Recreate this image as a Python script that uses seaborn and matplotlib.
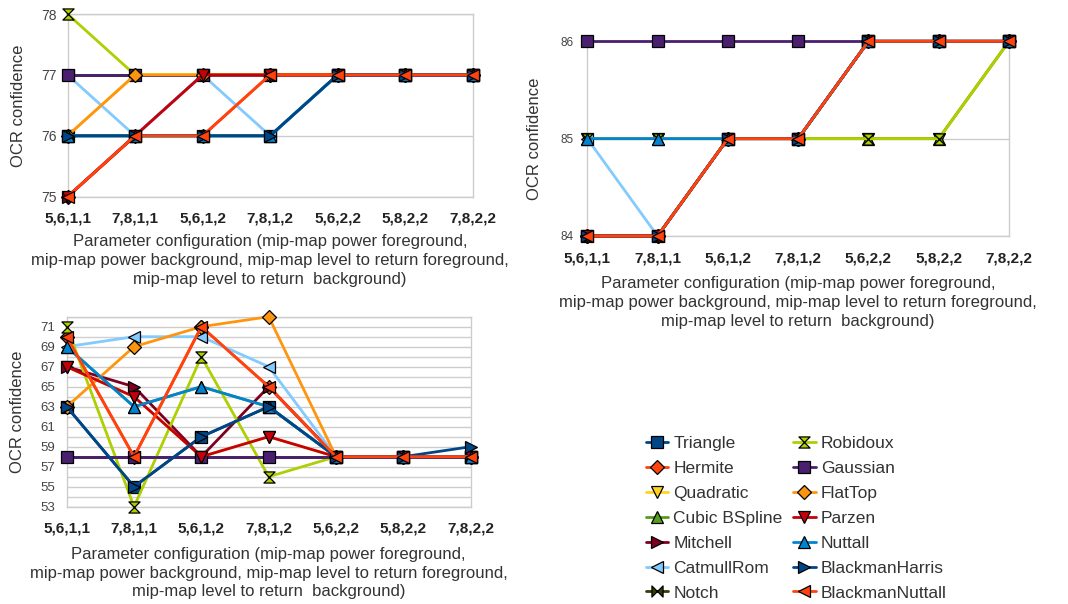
import numpy as np
import matplotlib
matplotlib.use("Agg")
import matplotlib.pyplot as plt
from matplotlib.path import Path
from matplotlib.lines import Line2D
import seaborn as sns

sns.set_theme(style="white")
plt.rcParams['font.family'] = ['Liberation Sans', 'DejaVu Sans']

configs = ["5,6,1,1", "7,8,1,1", "5,6,1,2", "7,8,1,2", "5,6,2,2", "5,8,2,2", "7,8,2,2"]
series = ["Triangle", "Hermite", "Quadratic", "Cubic BSpline", "Mitchell", "CatmullRom", "Notch",
          "Robidoux", "Gaussian", "FlatTop", "Parzen", "Nuttall", "BlackmanHarris", "BlackmanNuttall"]

# Chart A (top-left)
top_left = {
    "Triangle":        [76, 76, 76, 76, 77, 77, 77],
    "Hermite":         [75, 76, 76, 77, 77, 77, 77],
    "Quadratic":       [76, 77, 77, 77, 77, 77, 77],
    "Cubic BSpline":   [76, 76, 76, 76, 77, 77, 77],
    "Mitchell":        [75, 76, 77, 77, 77, 77, 77],
    "CatmullRom":      [77, 76, 77, 76, 77, 77, 77],
    "Notch":           [77, 77, 77, 77, 77, 77, 77],
    "Robidoux":        [78, 77, 77, 77, 77, 77, 77],
    "Gaussian":        [77, 77, 77, 77, 77, 77, 77],
    "FlatTop":         [76, 77, 77, 77, 77, 77, 77],
    "Parzen":          [75, 76, 77, 77, 77, 77, 77],
    "Nuttall":         [76, 76, 76, 76, 77, 77, 77],
    "BlackmanHarris":  [76, 76, 76, 76, 77, 77, 77],
    "BlackmanNuttall": [75, 76, 76, 77, 77, 77, 77],
}
# Chart B (top-right)
top_right = {
    "Triangle":        [84, 84, 85, 85, 86, 86, 86],
    "Hermite":         [84, 84, 85, 85, 86, 86, 86],
    "Quadratic":       [85, 85, 85, 85, 85, 85, 86],
    "Cubic BSpline":   [85, 85, 85, 85, 85, 85, 86],
    "Mitchell":        [84, 84, 85, 85, 86, 86, 86],
    "CatmullRom":      [85, 84, 85, 85, 86, 86, 86],
    "Notch":           [84, 84, 85, 85, 86, 86, 86],
    "Robidoux":        [85, 85, 85, 85, 85, 85, 86],
    "Gaussian":        [86, 86, 86, 86, 86, 86, 86],
    "FlatTop":         [84, 84, 85, 85, 86, 86, 86],
    "Parzen":          [84, 84, 85, 85, 86, 86, 86],
    "Nuttall":         [85, 85, 85, 85, 86, 86, 86],
    "BlackmanHarris":  [84, 84, 85, 85, 86, 86, 86],
    "BlackmanNuttall": [84, 84, 85, 85, 86, 86, 86],
}
# Chart C (bottom-left)
bottom_left = {
    "Triangle":        [63, 55, 60, 63, 58, 58, 58],
    "Hermite":         [70, 58, 71, 65, 58, 58, 58],
    "Quadratic":       [67, 64, 58, 60, 58, 58, 58],
    "Cubic BSpline":   [69, 63, 65, 63, 58, 58, 58],
    "Mitchell":        [67, 65, 58, 65, 58, 58, 58],
    "CatmullRom":      [69, 70, 70, 67, 58, 58, 58],
    "Notch":           [58, 58, 58, 58, 58, 58, 58],
    "Robidoux":        [71, 53, 68, 56, 58, 58, 58],
    "Gaussian":        [58, 58, 58, 58, 58, 58, 58],
    "FlatTop":         [63, 69, 71, 72, 58, 58, 58],
    "Parzen":          [67, 64, 58, 60, 58, 58, 58],
    "Nuttall":         [69, 63, 65, 63, 58, 58, 58],
    "BlackmanHarris":  [63, 55, 60, 63, 58, 58, 59],
    "BlackmanNuttall": [70, 58, 71, 65, 58, 58, 58],
}

colors = ["#004586", "#ff420e", "#ffd320", "#579d1c", "#7e0021", "#83caff", "#314004",
          "#aecf00", "#4b1f6f", "#ff950e", "#c5000b", "#0084d1", "#004586", "#ff420e"]

hourglass = Path([(-1, 1), (1, 1), (-1, -1), (1, -1), (-1, 1)],
                 [Path.MOVETO, Path.LINETO, Path.LINETO, Path.LINETO, Path.CLOSEPOLY])
bowtie = Path([(-1, -1), (-1, 1), (1, -1), (1, 1), (-1, -1)],
              [Path.MOVETO, Path.LINETO, Path.LINETO, Path.LINETO, Path.CLOSEPOLY])
markers = ["s", "D", "v", "^", ">", "<", bowtie, hourglass, "s", "D", "v", "^", ">", "<"]
msizes = [8, 7, 8, 8, 8, 8, 8, 8, 8, 7, 8, 8, 8, 8]

W, H = 1068, 604
fig = plt.figure(figsize=(W / 100, H / 100), dpi=100)
fig.patch.set_facecolor("white")

def px_axes(left, right, top, bottom):
    return fig.add_axes([left / W, 1 - bottom / H, (right - left) / W, (bottom - top) / H])

xpos = np.arange(len(configs))
text_col = "#333333"
xlabel = ("Parameter configuration (mip-map power foreground,\n"
          "mip-map power background, mip-map level to return foreground,\n"
          "mip-map level to return  background)")

def draw(ax, data, ylim, yticks, ytick_fs, ypad, ylabelpad, xlabelpad, minor_grid=None):
    for i, name in enumerate(series):
        sns.lineplot(x=xpos, y=data[name], ax=ax, color=colors[i], linewidth=2,
                     marker=markers[i], markersize=msizes[i], markeredgecolor="black",
                     markeredgewidth=0.9, clip_on=False, zorder=3 + i * 0.01,
                     legend=False, errorbar=None)
    ax.set_xlim(0, 6)
    ax.set_ylim(*ylim)
    ax.set_yticks(yticks)
    ax.set_yticklabels([str(t) for t in yticks], fontsize=ytick_fs, color="#444444")
    if minor_grid is not None:
        ax.set_yticks(minor_grid, minor=True)
        ax.grid(True, axis="y", which="minor", color="#d0d0d0", linewidth=1)
        ax.tick_params(axis="y", which="minor", length=0)
    ax.grid(True, axis="y", which="major", color="#cccccc", linewidth=1)
    ax.set_axisbelow(True)
    ax.set_xticks(xpos)
    ax.set_xticklabels(configs, fontsize=11, fontweight="bold", color="#222222")
    ax.tick_params(axis="x", length=5, color="#bbbbbb", pad=6, width=1)
    ax.tick_params(axis="y", which="major", length=0, pad=ypad)
    for s in ax.spines.values():
        s.set_color("#cccccc")
        s.set_linewidth(1)
    ax.set_xlabel(xlabel, fontsize=12, color=text_col, labelpad=xlabelpad, linespacing=1.3)
    ax.set_ylabel("OCR confidence", fontsize=12, color=text_col, labelpad=ylabelpad)
    ax.set_facecolor("white")

ax1 = px_axes(67.5, 472.7, 14, 196.7)
draw(ax1, top_left, (75, 78), [75, 76, 77, 78], 10, 8, 11, 6)

ax2 = px_axes(587.3, 1009, 41.3, 236)
draw(ax2, top_right, (84, 86), [84, 85, 86], 8.5, 10, 13, 8)

ax3 = px_axes(66.7, 470.7, 316.7, 506.7)
draw(ax3, bottom_left, (53, 72), list(range(53, 72, 2)), 9.5, 8, 11, 8,
     minor_grid=list(range(53, 73)))

handles = [Line2D([0], [0], color=colors[i], linewidth=2, marker=markers[i],
                  markersize=msizes[i], markeredgecolor="black", markeredgewidth=0.9)
           for i in range(len(series))]
leg = fig.legend(handles, series, ncol=2, loc="upper left",
                 bbox_to_anchor=(630 / W, 1 - 420 / H), frameon=False,
                 fontsize=12.5, handlelength=1.3, handletextpad=0.3,
                 columnspacing=0.6, labelspacing=0.565)
for t in leg.get_texts():
    t.set_color(text_col)

fig.savefig("out.png", dpi=100, facecolor="white")
